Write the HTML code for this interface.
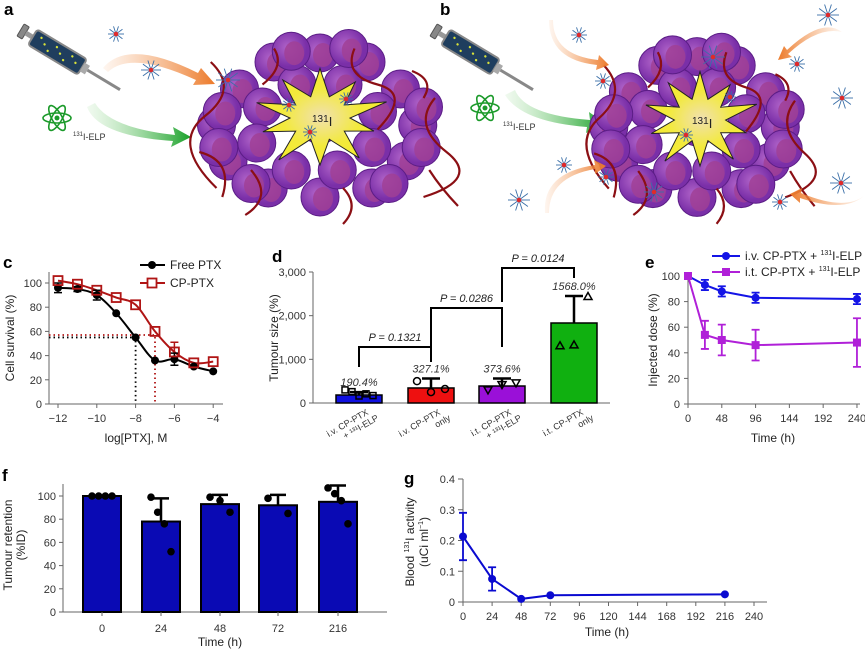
<!DOCTYPE html>
<html><head><meta charset="utf-8">
<style>
html,body{margin:0;padding:0;background:#fff;}
svg{display:block;font-family:"Liberation Sans",sans-serif;}
.t{font-size:11px;fill:#333;}
.lt{font-size:12px;fill:#222;}
.pl{font-weight:bold;font-size:17px;fill:#000;}
</style></head>
<body>
<svg id="fig" width="865" height="649" viewBox="0 0 865 649" xmlns="http://www.w3.org/2000/svg">
<defs>
<linearGradient id="gOr" x1="0" x2="1"><stop offset="0" stop-color="#f5a66b" stop-opacity="0.1"/><stop offset="1" stop-color="#ec7a2a"/></linearGradient>
<linearGradient id="gOrR" x1="1" x2="0"><stop offset="0" stop-color="#f5a66b" stop-opacity="0.1"/><stop offset="1" stop-color="#ec7a2a"/></linearGradient>
<linearGradient id="gGr" x1="0" x2="1"><stop offset="0" stop-color="#9fdc9a" stop-opacity="0.15"/><stop offset="1" stop-color="#18a028"/></linearGradient>
<radialGradient id="gCell" cx="0.4" cy="0.4"><stop offset="0" stop-color="#b063c8"/><stop offset="1" stop-color="#7a2fa8"/></radialGradient>
<radialGradient id="gStar"><stop offset="0" stop-color="#f0e0b0"/><stop offset="0.6" stop-color="#f3ea3c"/><stop offset="1" stop-color="#f5ec30"/></radialGradient>
</defs>

<text class="pl" x="4" y="15">a</text>
<text class="pl" x="440" y="15">b</text>
<text class="pl" x="3" y="268">c</text>
<text class="pl" x="272" y="262">d</text>
<text class="pl" x="645" y="268">e</text>
<text class="pl" x="2" y="481">f</text>
<text class="pl" x="404" y="484">g</text>

<g id="illA"></g>
<g id="illB"></g>
<g id="pc"></g>
<g id="pd"></g>
<g id="pe"></g>
<g id="pf"></g>
<g id="pg"></g>
</svg>
<script>
// ---------- chart data ----------
const cDoses = [-12,-11,-10,-9,-8,-7,-6,-5,-4];
const cFree = [96,95,90,75,55,36,37,31,27];
const cFreeErr = [4,2,4,0,0,0,5,0,0];
const cCP = [102,99,94,88,82,60,43,34,35];
const cCPErr = [0,0,0,0,0,0,8,0,0];
const cXTicks = [-12,-10,-8,-6,-4];
const cYTicks = [0,20,40,60,80,100];

const dCats = ["iv-elp","iv-only","it-elp","it-only"];
const dMeans = [183,344,389,1832];
const dErrTop = [250,560,560,2450];
const dLabels = ["190.4%","327.1%","373.6%","1568.0%"];
const dPoints0 = [300,260,160,210,170];
const dPoints1 = [500,250,320];
const dPoints2 = [300,420,460];
const dPoints3 = [1310,1330,2440];
const dYTicks = [0,1000,2000,3000];
const dYTickLabels = ["0","1,000","2,000","3,000"];

const eTimes = [0,24,48,96,240];
const eIV = [100,93,88,83,82];
const eIVErr = [0,4,4,4,4];
const eIT = [100,54,50,46,48];
const eITErr = [0,11,12,12,19];
const eXTicks = [0,48,96,144,192,240];
const eYTicks = [0,20,40,60,80,100];

const fCats = ["0","24","48","72","216"];
const fMeans = [100,78,93,92,95];
const fErrTop = [100,98,101,101,109];
const fPts0 = [100,100,100,100];
const fPts1 = [99,86,76,52];
const fPts2 = [99,96,86];
const fPts3 = [98,85];
const fPts4 = [107,102,96,76];
const fYTicks = [0,20,40,60,80,100];

const gTimes = [0,24,48,72,216];
const gVals = [0.213,0.075,0.01,0.022,0.025];
const gErr = [0.077,0.038,0,0,0];
const gXTicks = [0,24,48,72,96,120,144,168,192,216,240];
const gYTicks = [0,0.1,0.2,0.3,0.4];

const NS="http://www.w3.org/2000/svg";
function mk(tag, attrs, parent){const e=document.createElementNS(NS,tag);for(const k in attrs)e.setAttribute(k,attrs[k]);parent.appendChild(e);return e;}
function txt(s, attrs, parent){const e=mk('text',attrs,parent);e.textContent=s;return e;}

// ---------- illustrations ----------
function tumour(g, cx, cy, sx, sy, scx, scy){
  const offs=[[-70,-40],[-40,-70],[0,-80],[40,-70],[70,-40],[85,0],[75,40],[45,70],[0,80],[-45,70],[-80,40],[-90,0],
              [-50,-20],[-20,-45],[20,-45],[50,-15],[45,25],[15,50],[-25,50],[-55,20],[0,0],[-85,-15],[90,-20],[-60,65],[60,65],[25,-85],[-25,-82],[88,25],[-88,25]];
  offs.forEach(o=>{
    const x=cx+o[0]*sx, y=cy+o[1]*sy;
    const c=mk('circle',{cx:x,cy:y,r:19,fill:'url(#gCell)',stroke:'#5b1d86','stroke-width':1},g);
    
    
    mk('ellipse',{cx:x+3,cy:y+2,rx:10,ry:12,fill:'#a03f95',opacity:0.85},g);
  });
  const vessels=["M-95,-70 q25,30 -5,60 t10,80","M30,-85 q-10,30 20,40 t0,50","M100,-30 q-20,30 10,60 t-20,50","M-60,50 q20,30 -5,50","M20,70 q15,20 0,40","M-105,30 q30,10 20,50","M95,50 q10,20 25,40","M-40,-85 q10,20 -10,40","M80,-60 q20,10 10,30"];
  vessels.forEach(d=>{
    const p=mk('path',{d:d,transform:`translate(${cx},${cy}) scale(${sx},${sy})`,fill:'none',stroke:'#8b0f14','stroke-width':2.2,'vector-effect':'non-scaling-stroke'},g);
    
    
  });
  let pts=[];
  const rr=[1,0.45,0.9,0.45,1.05,0.45,0.85,0.45,1,0.45,0.95,0.45,1.05,0.45,0.9,0.45,1,0.45,0.95,0.45];
  for(let i=0;i<20;i++){const a=i*Math.PI/10 - Math.PI/2;const r=rr[i];pts.push((scx+r*58*sx*Math.cos(a)).toFixed(1)+','+(scy+r*55*sy*Math.sin(a)).toFixed(1));}
  const st=mk('polygon',{points:pts.join(' '),fill:'url(#gStar)',stroke:'#222','stroke-width':1},g);
  
  
  const lb=mk('text',{x:scx-8,y:scy+4,'font-size':10,fill:'#222'},g);
  
  
  lb.innerHTML='131<tspan font-size="13" dy="4">I</tspan>';
}
function micelle(g,x,y,s){
  for(let i=0;i<10;i++){const a=i*Math.PI/5;mk('line',{x1:x,y1:y,x2:x+s*Math.cos(a),y2:y+s*Math.sin(a),stroke:'#3a6fa8','stroke-width':0.9},g);}
  const c=mk('circle',{cx:x,cy:y,r:2.3,fill:'#e02a2a'},g);
  
  
}
function syringe(g,x,y){
  const s=mk('g',{transform:`translate(${x},${y}) rotate(31)`},g);
  
  
  mk('rect',{x:-4,y:-7,width:6,height:14,rx:1,fill:'#888',stroke:'#555'},s);
  mk('rect',{x:2,y:-2.5,width:8,height:5,fill:'#999'},s);
  mk('rect',{x:10,y:-9,width:58,height:18,rx:3,fill:'#1f3e5e',stroke:'#888','stroke-width':2},s);
  for(let i=0;i<8;i++)mk('circle',{cx:18+i*6,cy:(i%3)*4-4,r:1.2,fill:'#d8e23a'},s);
  mk('rect',{x:68,y:-5,width:6,height:10,fill:'#aaa'},s);
  mk('rect',{x:74,y:-1.5,width:38,height:3,fill:'#888'},s);
}
function atom(g,x,y){
  const a=mk('g',{},g);
  
  
  [0,60,120].forEach(r=>mk('ellipse',{cx:x,cy:y,rx:14,ry:5,fill:'none',stroke:'#1b9a2a','stroke-width':1.6,transform:`rotate(${r} ${x} ${y})`},a));
  mk('circle',{cx:x,cy:y,r:2.5,fill:'#1b9a2a'},a);
}
function label131(g,x,y){
  const t=mk('text',{x:x,y:y,'font-size':9,fill:'#333'},g);
  
  
  const s1=mk('tspan',{'font-size':6,dy:-4},t);s1.textContent='131';
  const s2=mk('tspan',{dy:4},t);s2.textContent='I-ELP';
}
function arrow(g,d,fill,name){
  const p=mk('path',{d:d,fill:fill},g);
  
  
}
(function(){
  const A=document.getElementById('illA');
  syringe(A,24,32);
  atom(A,57,118);
  label131(A,73,140);
  arrow(A,"M95,103 q15,25 80,32 l-2,-8 l18,10 l-20,10 l2,-6 q-75,-5 -86,-34 z","url(#gGr)","green-arrow");
  arrow(A,"M103,68 q25,-30 95,5 l3,-5 l14,16 l-22,1 l3,-5 q-65,-30 -88,-8 z","url(#gOr)","orange-arrow");
  tumour(A,320,125,1.15,0.9,320,118);
  micelle(A,116,34,8);micelle(A,151,70,10);micelle(A,228,80,12);micelle(A,289,105,7);micelle(A,346,99,7);micelle(A,310,132,7);
  const B=document.getElementById('illB');
  syringe(B,437,32);
  atom(B,485,108);
  label131(B,503,130);
  arrow(B,"M515,90 q10,25 75,30 l-1,-8 l17,12 l-20,9 l1,-6 q-65,-5 -82,-32 z","url(#gGr)","green-arrow");
  tumour(B,697,127,0.98,0.88,700,120);
  arrow(B,"M553,20 q0,35 45,40 l1,-5 l10,10 l-13,5 l1,-5 q-48,-5 -48,-45 z","url(#gOr)","orange-arrow");
  arrow(B,"M842,32 q-20,-15 -55,18 l-3,-4 l-6,14 l14,-3 l-4,-3 q30,-28 54,-22 z","url(#gOrR)","orange-arrow");
  arrow(B,"M545,213 q-3,-40 50,-48 l-1,-5 l12,6 l-11,8 l0,-5 q-46,8 -46,44 z","url(#gOr)","orange-arrow");
  arrow(B,"M864,196 q-20,15 -63,-3 l1,-5 l-12,6 l10,9 l0,-5 q44,15 64,-2 z","url(#gOrR)","orange-arrow");
  micelle(B,579,35,8);micelle(B,603,81,8);micelle(B,713,57,12);micelle(B,797,64,8);micelle(B,828,15,11);micelle(B,842,98,11);
  micelle(B,686,135,7);micelle(B,564,165,8);micelle(B,606,177,8);micelle(B,519,200,11);micelle(B,654,192,10);micelle(B,780,202,8);micelle(B,841,183,11);micelle(B,730,97,6);
})();

// ---------- helpers ----------
function axisLine(g,x1,y1,x2,y2,name){const l=mk('line',{x1,y1,x2,y2,stroke:'#666','stroke-width':1},g);return l;}
function smoothPath(pts){let d=`M${pts[0][0]},${pts[0][1]}`;for(let i=0;i<pts.length-1;i++){const p0=pts[Math.max(0,i-1)],p1=pts[i],p2=pts[i+1],p3=pts[Math.min(pts.length-1,i+2)];
  d+=` C${p1[0]+(p2[0]-p0[0])/6},${p1[1]+(p2[1]-p0[1])/6} ${p2[0]-(p3[0]-p1[0])/6},${p2[1]-(p3[1]-p1[1])/6} ${p2[0]},${p2[1]}`;}return d;}
function ylabel(g,s,x,y,name){const t=txt(s,{x:x,y:y,class:'lt','text-anchor':'middle',transform:`rotate(-90 ${x} ${y})`},g);return t;}

// ---------- panel c ----------
(function(){
  const g=document.getElementById('pc');
  const X=v=>58+(v+12)*19.4, Y=v=>404-v*1.21;
  axisLine(g,49,272,49,404,'y-axis');
  axisLine(g,49,404,223,404,'x-axis');
  cYTicks.forEach(v=>{axisLine(g,45,Y(v),49,Y(v),'y-tick');const t=txt(String(v),{x:42,y:Y(v)+4,class:'t','text-anchor':'end'},g);});
  cXTicks.forEach(v=>{axisLine(g,X(v),404,X(v),408,'x-tick');const t=txt(String(v).replace('-','−'),{x:X(v),y:422,class:'t','text-anchor':'middle'},g);});
  ylabel(g,'Cell survival (%)',14,338,'y-axis-title');
  const xt=txt('log[PTX], M',{x:136,y:442,class:'lt','text-anchor':'middle'},g);
  const r1=mk('path',{d:`M49,${Y(57)} H${X(-7)} V404`,fill:'none',stroke:'#b01515','stroke-width':1.8,'stroke-dasharray':'1.5,3'},g);
  const b1=mk('path',{d:`M49,${Y(55)} H${X(-8)} V404`,fill:'none',stroke:'#000','stroke-width':1.8,'stroke-dasharray':'1.5,3'},g);
  const fl=mk('path',{d:smoothPath(cDoses.map((d,i)=>[X(d),Y(cFree[i])])),fill:'none',stroke:'#000','stroke-width':2},g);
  const cl=mk('path',{d:smoothPath(cDoses.map((d,i)=>[X(d),Y(cCP[i])])),fill:'none',stroke:'#b01515','stroke-width':2},g);
  cDoses.forEach((d,i)=>{
    if(cFreeErr[i]){const e=mk('path',{d:`M${X(d)},${Y(cFree[i]-cFreeErr[i])}V${Y(cFree[i]+cFreeErr[i])}M${X(d)-4},${Y(cFree[i]-cFreeErr[i])}h8M${X(d)-4},${Y(cFree[i]+cFreeErr[i])}h8`,stroke:'#000','stroke-width':1.5},g);}
    const p=mk('circle',{cx:X(d),cy:Y(cFree[i]),r:4,fill:'#000'},g);
    
    
    if(cCPErr[i]){const e=mk('path',{d:`M${X(d)},${Y(cCP[i])}V${Y(cCP[i]+cCPErr[i])}M${X(d)-4},${Y(cCP[i]+cCPErr[i])}h8`,stroke:'#b01515','stroke-width':1.5},g);}
    const q=mk('rect',{x:X(d)-4.5,y:Y(cCP[i])-4.5,width:9,height:9,fill:'none',stroke:'#b01515','stroke-width':1.8},g);
    
    
  });
  mk('line',{x1:140,y1:265,x2:165,y2:265,stroke:'#000','stroke-width':2},g);
  const lc1=mk('circle',{cx:152,cy:265,r:4,fill:'#000'},g);
  const lt1=txt('Free PTX',{x:170,y:269,class:'lt'},g);
  mk('line',{x1:140,y1:283,x2:165,y2:283,stroke:'#b01515','stroke-width':2},g);
  const lc2=mk('rect',{x:147.5,y:278.5,width:9,height:9,fill:'#fff',stroke:'#b01515','stroke-width':1.8},g);
  const lt2=txt('CP-PTX',{x:170,y:287,class:'lt'},g);
})();

// ---------- panel d ----------
(function(){
  const g=document.getElementById('pd');
  const centers=[359,431,502,574], w=46;
  const X=i=>centers[i], Y=v=>403-v*131/3000;
  const colors=['#1010e0','#ee1010','#9a10d8','#10b010'];
  const ptsAll=[dPoints0,dPoints1,dPoints2,dPoints3];
  axisLine(g,313,272,313,403,'y-axis');
  axisLine(g,313,403,610,403,'x-axis');
  dYTicks.forEach((v,i)=>{axisLine(g,309,Y(v),313,Y(v),'y-tick');const t=txt(dYTickLabels[i],{x:306,y:Y(v)+4,class:'t','text-anchor':'end'},g);});
  ylabel(g,'Tumour size (%)',278,338,'y-axis-title');
  dCats.forEach((c,i)=>{
    const e=mk('path',{d:`M${X(i)},${Y(dMeans[i])}V${Y(dErrTop[i])}M${X(i)-9},${Y(dErrTop[i])}h18`,stroke:'#000','stroke-width':2.5},g);
    
    
    const b=mk('rect',{x:X(i)-w/2,y:Y(dMeans[i]),width:w,height:403-Y(dMeans[i]),fill:colors[i],stroke:'#000','stroke-width':1.5},g);
    
    
    ptsAll[i].forEach((v,j)=>{
      const px=X(i)-14+j*(28/Math.max(1,ptsAll[i].length-1));
      let m;
      if(i==0) m=mk('rect',{x:px-3,y:Y(v)-3,width:6,height:6,fill:'none',stroke:'#000','stroke-width':1.5},g);
      else if(i==1) m=mk('circle',{cx:px,cy:Y(v),r:3.5,fill:'none',stroke:'#000','stroke-width':1.5},g);
      else if(i==2) m=mk('path',{d:`M${px-4},${Y(v)-3}h8l-4,7z`,fill:'none',stroke:'#000','stroke-width':1.5},g);
      else m=mk('path',{d:`M${px-4},${Y(v)+3}h8l-4,-7z`,fill:'none',stroke:'#000','stroke-width':1.5},g);
      
      
    });
    const l=txt(dLabels[i],{x:X(i),y:Y(dErrTop[i])-6,'font-size':11,'font-style':'italic',fill:'#333','text-anchor':'middle'},g);
    
    
  });
  const xlab=[["i.v. CP-PTX","+ ¹³¹I-ELP"],["i.v. CP-PTX","only"],["i.t. CP-PTX","+ ¹³¹I-ELP"],["i.t. CP-PTX","only"]];
  xlab.forEach((l,i)=>{
    const t=mk('text',{x:X(i)+10,y:414,'font-size':9,fill:'#333','text-anchor':'end',transform:`rotate(-30 ${X(i)+10} 414)`},g);
    
    
    const a=mk('tspan',{x:X(i)+10,dy:0},t);a.textContent=l[0];
    const b=mk('tspan',{x:X(i)+16,dy:10},t);b.textContent=l[1];
  });
  const br=[[0,1,367,347,362,'P = 0.1321'],[1,2,348,308,347,'P = 0.0286'],[2,3,302,268,278,'P = 0.0124']];
  br.forEach(b=>{
    const p=mk('path',{d:`M${X(b[0])},${b[2]}V${b[3]}H${X(b[1])}V${b[4]}`,fill:'none',stroke:'#000','stroke-width':2},g);
    
    
    const t=txt(b[5],{x:(X(b[0])+X(b[1]))/2,y:b[3]-6,'font-size':11,'font-style':'italic',fill:'#222','text-anchor':'middle'},g);
    
    
  });
})();

// ---------- panel e ----------
(function(){
  const g=document.getElementById('pe');
  const X=t=>688+t*0.704, Y=v=>404-v*1.28;
  axisLine(g,688,272,688,404,'y-axis');
  axisLine(g,684,404,860,404,'x-axis');
  eYTicks.forEach(v=>{axisLine(g,684,Y(v),688,Y(v),'y-tick');const t=txt(String(v),{x:680,y:Y(v)+4,class:'t','text-anchor':'end'},g);});
  eXTicks.forEach(v=>{axisLine(g,X(v),404,X(v),408,'x-tick');const t=txt(String(v),{x:X(v),y:422,class:'t','text-anchor':'middle'},g);});
  ylabel(g,'Injected dose (%)',657,340,'y-axis-title');
  const xt=txt('Time (h)',{x:773,y:442,class:'lt','text-anchor':'middle'},g);
  [[eIV,eIVErr,'#1414e6','iv','circle'],[eIT,eITErr,'#b020d8','it','square']].forEach(s=>{
    const l=mk('polyline',{points:eTimes.map((t,i)=>X(t)+','+Y(s[0][i])).join(' '),fill:'none',stroke:s[2],'stroke-width':2},g);
    
    
    eTimes.forEach((t,i)=>{
      if(s[1][i]){const e=mk('path',{d:`M${X(t)},${Y(s[0][i]-s[1][i])}V${Y(s[0][i]+s[1][i])}M${X(t)-4},${Y(s[0][i]-s[1][i])}h8M${X(t)-4},${Y(s[0][i]+s[1][i])}h8`,stroke:s[2],'stroke-width':1.8},g);}
      const m=s[4]=='circle'?mk('circle',{cx:X(t),cy:Y(s[0][i]),r:4,fill:s[2]},g):mk('rect',{x:X(t)-4,y:Y(s[0][i])-4,width:8,height:8,fill:s[2]},g);
      
      
    });
  });
  mk('line',{x1:712,y1:256,x2:740,y2:256,stroke:'#1414e6','stroke-width':2},g);
  mk('circle',{cx:726,cy:256,r:4,fill:'#1414e6'},g);
  const a=txt('',{x:745,y:260,class:'lt'},g);
  a.innerHTML='i.v. CP-PTX + <tspan font-size="7" dy="-5">131</tspan><tspan dy="5">I-ELP</tspan>';
  mk('line',{x1:712,y1:272,x2:740,y2:272,stroke:'#b020d8','stroke-width':2},g);
  mk('rect',{x:722,y:268,width:8,height:8,fill:'#b020d8'},g);
  const b=txt('',{x:745,y:276,class:'lt'},g);
  b.innerHTML='i.t. CP-PTX + <tspan font-size="7" dy="-5">131</tspan><tspan dy="5">I-ELP</tspan>';
})();

// ---------- panel f ----------
(function(){
  const g=document.getElementById('pf');
  const centers=[102,161,220,278,338], w=38;
  const X=i=>centers[i], Y=v=>612-v*1.16;
  const pts=[fPts0,fPts1,fPts2,fPts3,fPts4];
  axisLine(g,63,484,63,612,'y-axis');
  axisLine(g,63,612,387,612,'x-axis');
  fYTicks.forEach(v=>{axisLine(g,59,Y(v),63,Y(v),'y-tick');const t=txt(String(v),{x:56,y:Y(v)+4,class:'t','text-anchor':'end','font-size':10},g);});
  ylabel(g,'Tumour retention',12,545,'y-axis-title');
  ylabel(g,'(%ID)',25,545,'y-axis-title-unit');
  const xt=txt('Time (h)',{x:220,y:646,class:'lt','text-anchor':'middle'},g);
  fCats.forEach((c,i)=>{
    const e=mk('path',{d:`M${X(i)},${Y(fMeans[i])}V${Y(fErrTop[i])}M${X(i)-8},${Y(fErrTop[i])}h16`,stroke:'#000','stroke-width':2.5},g);
    
    
    const b=mk('rect',{x:X(i)-w/2,y:Y(fMeans[i]),width:w,height:612-Y(fMeans[i]),fill:'#0a0ab4',stroke:'#000','stroke-width':2},g);
    
    
    pts[i].forEach((v,j)=>{
      const n=pts[i].length;const px=n>1?X(i)-10+j*20/(n-1):X(i);
      const p=mk('circle',{cx:px,cy:Y(v),r:3.8,fill:'#000'},g);
      
      
    });
    axisLine(g,X(i),612,X(i),616,'x-tick');
    const t=txt(c,{x:X(i),y:632,class:'t','text-anchor':'middle','font-size':10},g);
    
    
  });
})();

// ---------- panel g ----------
(function(){
  const g=document.getElementById('pg');
  const X=t=>463+t*1.2125, Y=v=>602-v*307.5;
  axisLine(g,463,479,463,602,'y-axis');
  axisLine(g,463,602,767,602,'x-axis');
  gYTicks.forEach(v=>{axisLine(g,458,Y(v),463,Y(v),'y-tick');const t=txt(v==0?'0':v.toFixed(1),{x:455,y:Y(v)+4,class:'t','text-anchor':'end','font-size':10},g);});
  gXTicks.forEach(v=>{axisLine(g,X(v),602,X(v),606,'x-tick');const t=txt(String(v),{x:X(v),y:620,class:'t','text-anchor':'middle','font-size':10},g);});
  const yt=mk('text',{x:414,y:542,class:'lt','text-anchor':'middle',transform:'rotate(-90 414 542)'},g);
  
  
  yt.innerHTML='Blood <tspan font-size="7" dy="-5">131</tspan><tspan dy="5">I activity</tspan>';
  const yt2=mk('text',{x:428,y:542,class:'lt','text-anchor':'middle',transform:'rotate(-90 428 542)'},g);
  
  
  yt2.innerHTML='(uCi ml<tspan font-size="7" dy="-5">−1</tspan><tspan dy="5">)</tspan>';
  const xt=txt('Time (h)',{x:607,y:636,class:'lt','text-anchor':'middle'},g);
  const l=mk('polyline',{points:gTimes.map((t,i)=>X(t)+','+Y(gVals[i])).join(' '),fill:'none',stroke:'#0a0ad0','stroke-width':2},g);
  
  
  gTimes.forEach((t,i)=>{
    if(gErr[i]){const e=mk('path',{d:`M${X(t)},${Y(gVals[i]-gErr[i])}V${Y(gVals[i]+gErr[i])}M${X(t)-4},${Y(gVals[i]-gErr[i])}h8M${X(t)-4},${Y(gVals[i]+gErr[i])}h8`,stroke:'#0a0ad0','stroke-width':1.8},g);}
    const p=mk('circle',{cx:X(t),cy:Y(gVals[i]),r:4,fill:'#0a0ad0'},g);
    
    
  });
})();
</script>
</body></html>
